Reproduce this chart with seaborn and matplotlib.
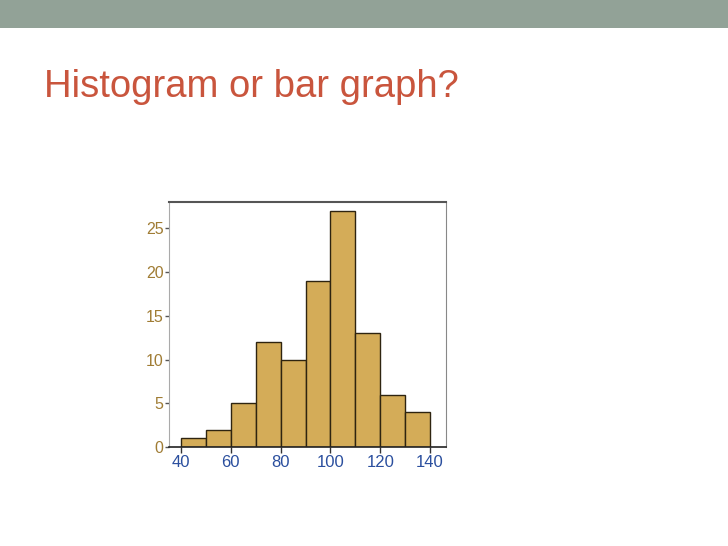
import numpy as np
import seaborn as sns
import matplotlib.pyplot as plt
from matplotlib.patches import Rectangle

# histogram values
bin_edges = [40, 50, 60, 70, 80, 90, 100, 110, 120, 130, 140]
counts = [1, 2, 5, 12, 10, 19, 27, 13, 6, 4]
bin_mids = [(a + b) / 2 for a, b in zip(bin_edges[:-1], bin_edges[1:])]
x_ticks = [40, 60, 80, 100, 120, 140]
y_ticks = [0, 5, 10, 15, 20, 25]
title = "Histogram or bar graph?"

sns.set_style("white")
plt.rcParams['font.family'] = ['Liberation Sans', 'DejaVu Sans']

fig = plt.figure(figsize=(7.28, 5.46), dpi=100)

# grey band at the top of the slide
fig.patches.append(Rectangle((0, 1 - 28 / 546), 1, 28 / 546, transform=fig.transFigure,
                             facecolor="#92a297", edgecolor="none", zorder=0))
fig.text(44 / 728, 1 - 97 / 546, title, color="#c9553d", fontsize=27.5,
         va="baseline", ha="left")

ax = fig.add_axes([169 / 728, 99 / 546, 277 / 728, 245 / 546])
sns.histplot(x=bin_mids, weights=counts, bins=bin_edges, ax=ax,
             color="#d4ac58", edgecolor="#2e2410", linewidth=1.0, alpha=1)

ax.set_xlim(35.2, 146.4)
ax.set_ylim(0, 28)
ax.set_xticks(x_ticks)
ax.set_yticks(y_ticks)
ax.set_xlabel("")
ax.set_ylabel("")
ax.tick_params(axis="x", colors="#333333", labelcolor="#2b4f9e", labelsize=12,
               length=4, width=1, direction="out", bottom=True, pad=2)
ax.tick_params(axis="y", colors="#555555", labelcolor="#a07c34", labelsize=11.5,
               length=3, width=1, direction="out", left=True, pad=1)

ax.spines["top"].set_color("#555555")
ax.spines["top"].set_linewidth(1.5)
ax.spines["left"].set_color("#aaaaaa")
ax.spines["right"].set_color("#888888")
ax.spines["bottom"].set_color("#222222")
ax.spines["bottom"].set_linewidth(1.2)

plt.savefig("out.png", dpi=100)
